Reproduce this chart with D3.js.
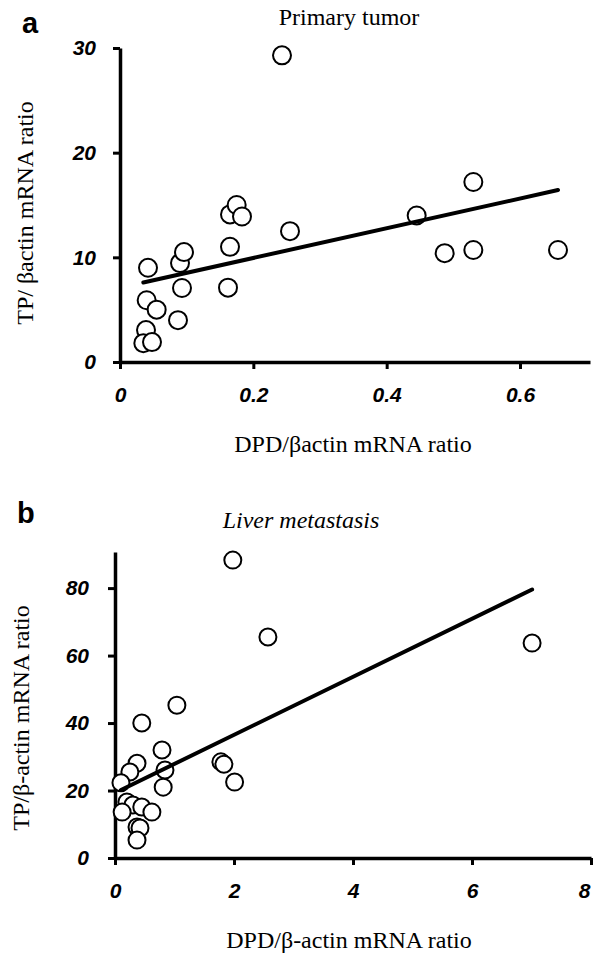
<!DOCTYPE html>
<html>
<head>
<meta charset="utf-8">
<script src="https://cdn.jsdelivr.net/npm/d3@7"></script>
<style>
  body { margin: 0; background: #fff; }
  .axis path, .axis line { stroke: #000; }
  .axis path { stroke-width: 3.5; }
  .axis line { stroke-width: 3; }
  .axis text { font-family: 'Liberation Sans', Arial, sans-serif; font-weight: bold; font-style: italic; font-size: 21px; fill: #000; }
  .lbl { font-family: 'Liberation Serif', 'Times New Roman', serif; font-size: 24px; fill: #000; }
  .panel { font-family: 'Liberation Sans', Arial, sans-serif; font-weight: bold; font-size: 29px; fill: #000; }
</style>
</head>
<body>
<div class="result"></div>
<script>
// Panel a: primary tumor (DPD/actin vs TP/actin)
const dpdA = [0.042, 0.09, 0.096, 0.165, 0.04, 0.055, 0.093, 0.162, 0.087, 0.039, 0.035, 0.048,
  0.255, 0.243, 0.165, 0.175, 0.183, 0.53, 0.445, 0.487, 0.53, 0.657];
const tpA = [9.0, 9.45, 10.5, 11.0, 5.9, 5.0, 7.07, 7.1, 4.0, 3.05, 1.8, 1.9,
  12.5, 29.3, 14.1, 15.0, 13.9, 17.2, 14.0, 10.4, 10.7, 10.7];
const fitA = [7.1, 14.2]; // intercept, slope
const xTicksA = [0, 0.2, 0.4, 0.6];
const xLabelsA = ['0', '0.2', '0.4', '0.6'];
const yTicksA = [0, 10, 20, 30];

// Panel b: liver metastasis
const dpdB = [1.98, 2.57, 1.04, 7.01, 0.45, 0.79, 0.37, 0.25, 0.84, 0.81, 0.1, 0.2,
  0.3, 0.45, 0.12, 0.62, 0.37, 0.42, 0.37, 1.78, 1.83, 2.01];
const tpB = [88.3, 65.5, 45.3, 63.7, 40, 32, 28.1, 25.5, 26.1, 21, 22.3, 16.6,
  15.7, 15.1, 13.6, 13.6, 9.2, 8.9, 5.3, 28.5, 27.8, 22.5];
const fitB = [19.3, 8.6];
const xTicksB = [0, 2, 4, 6, 8];
const xLabelsB = ['0', '2', '4', '6', '8'];
const yTicksB = [0, 20, 40, 60, 80];

// Width and height
const w = 593;
const h = 953;

const svg = d3.select('.result')
  .append('svg')
  .attr('width', w)
  .attr('height', h);

function drawPanel(opt) {
  const data = opt.xs.map(function (x, i) { return [x, opt.ys[i]]; });

  // Scales
  const xScale = d3.scaleLinear().domain(opt.xDomain).range(opt.xRange);
  const yScale = d3.scaleLinear().domain(opt.yDomain).range(opt.yRange);

  // Axes
  const xAxis = d3.axisBottom(xScale)
    .tickValues(opt.xTicks)
    .tickFormat(function (d, i) { return opt.xLabels[i]; })
    .tickSize(7)
    .tickSizeOuter(0)
    .tickPadding(opt.xPad);

  const yAxis = d3.axisLeft(yScale)
    .tickValues(opt.yTicks)
    .tickFormat(d3.format('d'))
    .tickSize(7)
    .tickSizeOuter(0)
    .tickPadding(opt.yPad);

  const gx = svg.append('g')
    .attr('class', 'axis')
    .attr('transform', 'translate(0,' + opt.yRange[0] + ')')
    .call(xAxis);

  // last x label sits at the page edge, keep it inside
  if (opt.lastLabelEnd) {
    gx.selectAll('.tick text')
      .filter(function (d) { return d === opt.xTicks[opt.xTicks.length - 1]; })
      .attr('text-anchor', 'end')
      .attr('dx', -1);
  }

  svg.append('g')
    .attr('class', 'axis')
    .attr('transform', 'translate(' + opt.xRange[0] + ',0)')
    .call(yAxis);

  // Circles
  svg.append('g').selectAll('circle')
    .data(data)
    .enter()
    .append('circle')
    .attr('cx', function (d) { return xScale(d[0]); })
    .attr('cy', function (d) { return yScale(d[1]); })
    .attr('r', opt.r)
    .attr('fill', '#fff')
    .attr('stroke', '#000')
    .attr('stroke-width', 2);

  // Regression line over the data range
  const ext = d3.extent(opt.xs);
  const line = d3.line()
    .x(function (d) { return xScale(d); })
    .y(function (d) { return yScale(opt.fit[0] + opt.fit[1] * d); });
  svg.append('path')
    .datum(ext)
    .attr('d', line)
    .attr('fill', 'none')
    .attr('stroke', '#000')
    .attr('stroke-width', 4)
    .attr('stroke-linecap', 'round');

  // Texts
  svg.append('text')
    .attr('class', 'panel')
    .attr('x', opt.panelPos[0])
    .attr('y', opt.panelPos[1])
    .text(opt.panel);

  svg.append('text')
    .attr('class', 'lbl')
    .attr('x', opt.titlePos[0])
    .attr('y', opt.titlePos[1])
    .attr('text-anchor', 'middle')
    .style('font-style', opt.titleItalic ? 'italic' : 'normal')
    .text(opt.title);

  svg.append('text')
    .attr('class', 'lbl')
    .attr('x', opt.xLabelPos[0])
    .attr('y', opt.xLabelPos[1])
    .attr('text-anchor', 'middle')
    .text(opt.xLabel);

  svg.append('text')
    .attr('class', 'lbl')
    .attr('text-anchor', 'middle')
    .attr('transform', 'translate(' + opt.yLabelPos[0] + ',' + opt.yLabelPos[1] + ') rotate(-90)')
    .text(opt.yLabel);
}

drawPanel({
  xs: dpdA, ys: tpA, fit: fitA,
  xDomain: [0, 0.705], xRange: [120, 590],
  yDomain: [0, 30], yRange: [362, 48],
  xTicks: xTicksA, xLabels: xLabelsA, yTicks: yTicksA,
  xPad: 18, yPad: 17, r: 9,
  panel: 'a', panelPos: [22, 33],
  title: 'Primary tumor', titlePos: [349, 25], titleItalic: false,
  xLabel: 'DPD/\u03b2actin mRNA ratio', xLabelPos: [353, 452],
  yLabel: 'TP/ \u03b2actin mRNA ratio', yLabelPos: [33, 213]
});

drawPanel({
  xs: dpdB, ys: tpB, fit: fitB,
  xDomain: [0, 8], xRange: [115, 591],
  yDomain: [0, 90.7], yRange: [858, 552],
  xTicks: xTicksB, xLabels: xLabelsB, yTicks: yTicksB,
  xPad: 18, yPad: 19, r: 8.5, lastLabelEnd: true,
  panel: 'b', panelPos: [17, 523],
  title: 'Liver metastasis', titlePos: [301, 528], titleItalic: true,
  xLabel: 'DPD/\u03b2-actin mRNA ratio', xLabelPos: [349, 948],
  yLabel: 'TP/\u03b2-actin mRNA ratio', yLabelPos: [29, 718]
});
</script>
</body>
</html>
